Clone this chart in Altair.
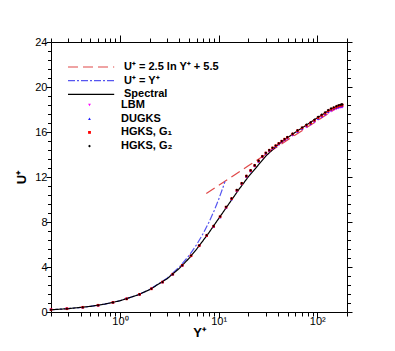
import altair as alt
import pandas as pd

# ---------------- data ----------------
# Spectral (DNS) reference profile
spec_y = [0.2, 0.3, 0.5, 0.7, 1, 1.5, 2, 3, 4, 5, 6, 7, 8, 9, 10, 12, 14, 16, 18, 20,
          25, 30, 40, 50, 60, 70, 80, 100, 120, 140, 160, 180]
spec_u = [0.2, 0.3, 0.5, 0.7, 1.0, 1.5, 1.99, 2.95, 3.88, 4.76, 5.6, 6.38, 7.07, 7.72, 8.3,
          9.3, 10.15, 10.88, 11.48, 12.02, 13.02, 13.85, 14.88, 15.5, 15.98, 16.36, 16.7,
          17.25, 17.7, 18.05, 18.3, 18.4]

# log law U+ = 2.5 ln Y+ + 5.5
log_y = [7.5, 10, 15, 20, 30, 50, 70, 100, 140, 180]
log_u = [10.54, 11.26, 12.27, 12.99, 14.00, 15.28, 16.12, 17.01, 17.85, 18.48]

# viscous sublayer U+ = Y+
lin_y = [0.2, 0.3, 0.4, 0.5, 0.7, 1, 1.5, 2, 3, 4, 5, 6, 7, 8, 9, 10, 11, 11.6]
lin_u = [0.2, 0.3, 0.4, 0.5, 0.7, 1, 1.5, 2, 3, 4, 5, 6, 7, 8, 9, 10, 11, 11.6]

# simulation points (shared Y+ grid)
pt_y = [0.2, 0.29, 0.42, 0.6, 0.85, 1.17, 1.58, 2.08, 2.7, 3.43, 4.28, 5.25, 6.35, 7.57,
        8.9, 10.35, 11.9, 13.55, 15.3, 17.15, 19.1, 21.1, 23.2, 25.4, 27.7, 30.1, 32.6,
        35.2, 37.9, 40.7, 43.6, 46.6, 49.7, 56.2, 63.0, 70.2, 77.7, 85.5, 93.6, 102, 111,
        120, 129, 138, 147, 156, 164, 171, 176, 179]
g2_u = [0.2, 0.29, 0.42, 0.6, 0.85, 1.17, 1.57, 2.07, 2.67, 3.37, 4.16, 5.02, 5.92, 6.83,
        7.65, 8.5, 9.35, 10.1, 10.85, 11.45, 12.1, 12.6, 13.05, 13.45, 13.85, 14.15, 14.4,
        14.6, 14.8, 15.0, 15.2, 15.38, 15.55, 15.85, 16.15, 16.4, 16.65, 16.85, 17.1,
        17.35, 17.55, 17.75, 17.95, 18.1, 18.2, 18.3, 18.38, 18.42, 18.45, 18.45]
g1_u = [0.2, 0.29, 0.42, 0.6, 0.85, 1.17, 1.57, 2.06, 2.66, 3.36, 4.15, 5.0, 5.9, 6.8,
        7.62, 8.47, 9.32, 10.08, 10.82, 11.43, 12.08, 12.58, 13.03, 13.43, 13.83, 14.13, 14.38,
        14.58, 14.78, 14.98, 15.18, 15.36, 15.52, 15.82, 16.12, 16.37, 16.6, 16.8, 17.04,
        17.28, 17.48, 17.68, 17.88, 18.03, 18.13, 18.23, 18.31, 18.36, 18.39, 18.4]
dugks_u = [0.2, 0.29, 0.42, 0.6, 0.85, 1.17, 1.57, 2.06, 2.66, 3.35, 4.14, 4.99, 5.88, 6.78,
           7.6, 8.44, 9.28, 10.04, 10.78, 11.39, 12.03, 12.53, 12.98, 13.38, 13.78, 14.08,
           14.33, 14.53, 14.73, 14.93, 15.12, 15.3, 15.46, 15.76, 16.06, 16.3, 16.53, 16.73,
           16.97, 17.2, 17.4, 17.6, 17.8, 17.95, 18.05, 18.15, 18.22, 18.27, 18.3, 18.31]
lbm_u = [0.2, 0.29, 0.42, 0.6, 0.85, 1.17, 1.56, 2.05, 2.64, 3.33, 4.11, 4.95, 5.84, 6.74,
         7.55, 8.39, 9.23, 9.99, 10.73, 11.34, 11.98, 12.48, 12.93, 13.33, 13.72, 14.02,
         14.27, 14.47, 14.67, 14.86, 15.05, 15.22, 15.38, 15.68, 15.97, 16.21, 16.44, 16.63,
         16.87, 17.1, 17.3, 17.5, 17.69, 17.84, 17.94, 18.04, 18.11, 18.16, 18.19, 18.2]

line_names = ["U\u207a = 2.5 ln Y\u207a + 5.5", "U\u207a = Y\u207a", "Spectral"]
line_colors = ["#e04848", "#5656f0", "#000000"]
line_dashes = [[10, 5], [7, 2, 2, 2], [1, 0]]

pt_names = ["LBM", "DUGKS", "HGKS, G\u2081", "HGKS, G\u2082"]
pt_colors = ["#ff00ff", "#2020ff", "#ff0000", "#000000"]
pt_shapes = ["triangle-down", "triangle-up", "square", "diamond"]

x_ticks = [0.2, 0.3, 0.4, 0.5, 0.6, 0.7, 0.8, 0.9, 1, 2, 3, 4, 5, 6, 7, 8, 9,
           10, 20, 30, 40, 50, 60, 70, 80, 90, 100, 200]
y_ticks = [round(i * 0.8, 1) for i in range(31)]

# ---------------- tables ----------------
lines_df = pd.concat([
    pd.DataFrame({"y": log_y, "u": log_u, "series": line_names[0]}),
    pd.DataFrame({"y": lin_y, "u": lin_u, "series": line_names[1]}),
    pd.DataFrame({"y": spec_y, "u": spec_u, "series": line_names[2]}),
], ignore_index=True)

pts_df = pd.concat([
    pd.DataFrame({"y": pt_y, "u": lbm_u, "method": pt_names[0]}),
    pd.DataFrame({"y": pt_y, "u": dugks_u, "method": pt_names[1]}),
    pd.DataFrame({"y": pt_y, "u": g1_u, "method": pt_names[2]}),
    pd.DataFrame({"y": pt_y, "u": g2_u, "method": pt_names[3]}),
], ignore_index=True)

FONT = "Liberation Sans"
xscale = alt.Scale(type="log", domain=[0.2, 200], nice=False)
yscale = alt.Scale(domain=[0, 24], nice=False, zero=False)

x_major = "datum.value == 1 || datum.value == 10 || datum.value == 100"
y_major = "datum.value % 4 === 0"

x_axis_bottom = alt.Axis(
    values=x_ticks, grid=False, title="Y\u207a", titleFont=FONT, titleFontSize=13,
    titleFontWeight="bold", titleColor="black", titlePadding=0,
    labelExpr="datum.value == 1 ? '10\u2070' : datum.value == 10 ? '10\u00b9' : datum.value == 100 ? '10\u00b2' : ''",
    labelFont=FONT, labelFontSize=11, labelColor="black", labelPadding=-3,
    labelFlush=False, labelOverlap=False,
    tickSize={"condition": {"test": x_major, "value": 6}, "value": 4},
    tickColor="black", domainColor="black", orient="bottom",
)
y_axis_left = alt.Axis(
    values=y_ticks, grid=False, title="U\u207a", titleFont=FONT, titleFontSize=13,
    titleFontWeight="bold", titleColor="black", titlePadding=6,
    labelExpr="(datum.value % 4 === 0) ? format(datum.value, 'd') : ''",
    labelFont=FONT, labelFontSize=11, labelColor="black", labelPadding=-1,
    labelFlush=False, labelOverlap=False,
    tickSize={"condition": {"test": y_major, "value": 5}, "value": 3.5},
    tickColor="black", domainColor="black", orient="left",
)
x_axis_top = alt.Axis(
    values=x_ticks, grid=False, title=None, labels=False, orient="top",
    tickSize={"condition": {"test": x_major, "value": 7}, "value": 4},
    tickColor="black", domainColor="black",
)
y_axis_right = alt.Axis(
    values=y_ticks, grid=False, title=None, labels=False, orient="right",
    tickSize={"condition": {"test": y_major, "value": 5}, "value": 3.5},
    tickColor="black", domainColor="black",
)

# long horizontal stroke as a custom legend symbol (radius = sqrt(size)/2)
line_legend = alt.Legend(
    title=None, orient="none", legendX=16, legendY=18.5, symbolType="M-1,0H7.4",
    symbolSize=121, symbolStrokeWidth=1.2, labelFont=FONT, labelFontSize=11,
    labelFontWeight="bold", labelColor="black", labelOffset=44, rowPadding=1.7,
    padding=0,
)
pt_legend = alt.Legend(
    title=None, orient="none", legendX=33, legendY=57.5, symbolSize=8,
    symbolStrokeWidth=0, labelFont=FONT, labelFontSize=11, labelFontWeight="bold",
    labelColor="black", labelOffset=26, rowPadding=1.7, padding=0,
)

lines = alt.Chart(lines_df).mark_line(strokeWidth=1.2).encode(
    x=alt.X("y:Q", scale=xscale, axis=x_axis_bottom),
    y=alt.Y("u:Q", scale=yscale, axis=y_axis_left),
    color=alt.Color("series:N", scale=alt.Scale(domain=line_names, range=line_colors),
                    legend=line_legend),
    strokeDash=alt.StrokeDash("series:N", scale=alt.Scale(domain=line_names, range=line_dashes),
                              legend=line_legend),
)

points = alt.Chart(pts_df).mark_point(filled=True, size=7, opacity=1).encode(
    x=alt.X("y:Q", scale=xscale, axis=None),
    y=alt.Y("u:Q", scale=yscale, axis=None),
    fill=alt.Fill("method:N", scale=alt.Scale(domain=pt_names, range=pt_colors),
                  legend=pt_legend),
    shape=alt.Shape("method:N", scale=alt.Scale(domain=pt_names, range=pt_shapes),
                    legend=pt_legend),
)

mirror = alt.Chart(pd.DataFrame({"y": spec_y, "u": spec_u})).mark_point(opacity=0).encode(
    x=alt.X("y:Q", scale=xscale, axis=x_axis_top),
    y=alt.Y("u:Q", scale=yscale, axis=y_axis_right),
)

chart = alt.layer(lines, points, mirror).resolve_axis(
    x="independent", y="independent"
).properties(
    width=296, height=270,
    padding={"left": 43, "top": 34, "right": 40, "bottom": 31},
    autosize=alt.AutoSizeParams(type="none"),
    background="white",
).configure_view(stroke=None)

chart.save("out.html", embed_options={"renderer": "svg", "actions": False})
